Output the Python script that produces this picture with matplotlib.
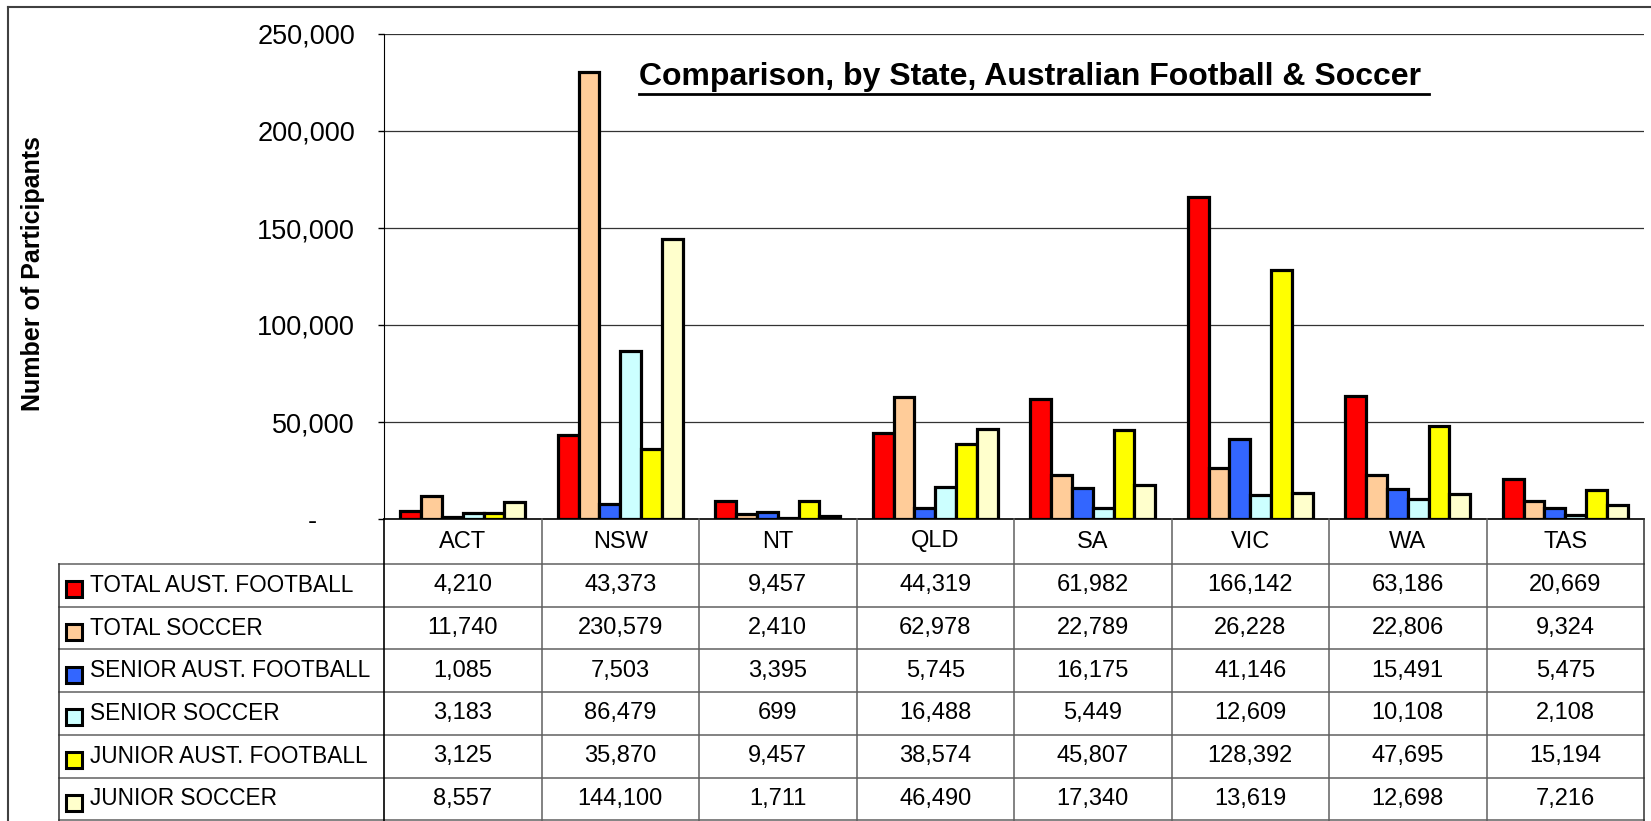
import matplotlib
matplotlib.use('Agg')
from matplotlib import pyplot as plt
from matplotlib.patches import Rectangle
from matplotlib.lines import Line2D
from matplotlib.ticker import FuncFormatter

plt.rcParams['font.family'] = ['Liberation Sans', 'DejaVu Sans']

# Data
states = ['ACT', 'NSW', 'NT', 'QLD', 'SA', 'VIC', 'WA', 'TAS']
series_names = ['TOTAL AUST. FOOTBALL', 'TOTAL SOCCER', 'SENIOR AUST. FOOTBALL',
                'SENIOR SOCCER', 'JUNIOR AUST. FOOTBALL', 'JUNIOR SOCCER']
total_afl = [4210, 43373, 9457, 44319, 61982, 166142, 63186, 20669]
total_soccer = [11740, 230579, 2410, 62978, 22789, 26228, 22806, 9324]
senior_afl = [1085, 7503, 3395, 5745, 16175, 41146, 15491, 5475]
senior_soccer = [3183, 86479, 699, 16488, 5449, 12609, 10108, 2108]
junior_afl = [3125, 35870, 9457, 38574, 45807, 128392, 47695, 15194]
junior_soccer = [8557, 144100, 1711, 46490, 17340, 13619, 12698, 7216]
colors = ['#FF0000', '#FFCC99', '#3366FF', '#CCFFFF', '#FFFF00', '#FFFFCC']

all_series = [total_afl, total_soccer, senior_afl, senior_soccer, junior_afl, junior_soccer]

W, H = 1651, 821
def fx(px):
    return px / W
def fy(py):
    return 1 - py / H

fig = plt.figure(figsize=(W / 100, H / 100), dpi=100)

# plot area
x0, x1, ytop, ybot = 384, 1644, 34, 519
ax = fig.add_axes([fx(x0), fy(ybot), (x1 - x0) / W, (ybot - ytop) / H])
bw = 0.132
xs = list(range(len(states)))
for j, vals in enumerate(all_series):
    ax.bar([x + (j - 2.5) * bw for x in xs], vals, width=bw, color=colors[j],
           edgecolor='black', linewidth=2.3, zorder=3)

ax.set_xlim(-0.5, len(states) - 0.5)
ax.set_ylim(0, 250000)
ax.set_yticks([0, 50000, 100000, 150000, 200000, 250000])
ax.yaxis.set_major_formatter(FuncFormatter(lambda v, p: '-     ' if v == 0 else f'{int(v):,}'))
ax.set_xticks([])
ax.yaxis.grid(True, color='#333333', linewidth=0.9)
ax.set_axisbelow(True)
ax.spines['top'].set_visible(False)
ax.spines['right'].set_visible(False)
ax.spines['left'].set_color('black')
ax.spines['bottom'].set_color('black')
ax.spines['bottom'].set_linewidth(1.2)
ax.tick_params(axis='y', length=4.3, width=1, pad=16.6, labelsize=19.5)

# data table under the chart
col_w = (x1 - x0) / len(states)
ax_t = fig.add_axes([fx(x0), 0, (x1 - x0) / W, fy(ybot)])
ax_t.set_xlim(-0.5, len(states) - 0.5)
ax_t.set_ylim(H - ybot, 0)
ax_t.axis('off')

head_h = 45
row_h = 42.7
left_x = -0.5 - (x0 - 59) / col_w
line_c = '#606060'

for k in range(len(series_names) + 1):
    yy = head_h + k * row_h
    ax_t.plot([left_x, len(states) - 0.5], [yy, yy], color=line_c, lw=1.1, clip_on=False)
for i in range(1, len(states)):
    ax_t.plot([i - 0.5, i - 0.5], [0, H - ybot], color=line_c, lw=1.1, clip_on=False)
ax_t.plot([-0.5, -0.5], [0, H - ybot], color='black', lw=1.2, clip_on=False)
ax_t.plot([len(states) - 0.5] * 2, [0, H - ybot], color='#303030', lw=1.1, clip_on=False)
ax_t.plot([left_x, left_x], [head_h, H - ybot], color='#303030', lw=1.1, clip_on=False)

for i, s in enumerate(states):
    ax_t.text(i, head_h / 2, s, ha='center', va='center', fontsize=17)

for r, (name, vals) in enumerate(zip(series_names, all_series)):
    yc = head_h + (r + 0.5) * row_h
    for i, v in enumerate(vals):
        ax_t.text(i, yc, f'{v:,}', ha='center', va='center', fontsize=17)
    kx = -0.5 - (x0 - 66) / col_w
    ax_t.add_patch(Rectangle((kx, yc - 4), 16 / col_w, 16, facecolor=colors[r],
                             edgecolor='black', linewidth=2.2, clip_on=False))
    ax_t.text(-0.5 - (x0 - 90) / col_w, yc, name, ha='left', va='center', fontsize=16.3)

# axis title and chart title
fig.text(fx(33), fy(274), 'Number of Participants', rotation=90, ha='center',
         va='center', fontsize=18, fontweight='bold')
title = fig.text(fx(1030), fy(85), 'Comparison, by State, Australian Football & Soccer',
                 ha='center', va='baseline', fontsize=23, fontweight='bold')

# outer chart border (cut at right and bottom)
fig.add_artist(Line2D([fx(8), fx(8)], [fy(7), 0], color='#404040', lw=1.5))
fig.add_artist(Line2D([fx(8), 1], [fy(7), fy(7)], color='#404040', lw=1.5))

fig.canvas.draw()
bb = title.get_window_extent()
fig.add_artist(Line2D([bb.x0 / W, (bb.x1 + 8) / W], [fy(94), fy(94)], color='black', lw=2))

fig.savefig('out.png', dpi=100)
